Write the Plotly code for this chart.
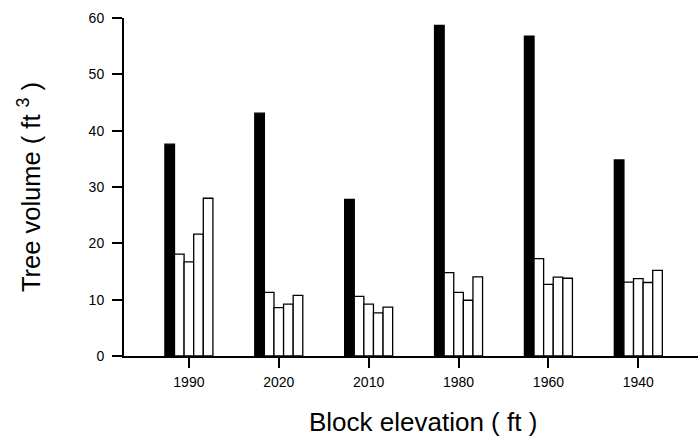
import plotly.graph_objects as go

elevations = ["1990", "2020", "2010", "1980", "1960", "1940"]
series_names = ["Series 1", "Series 2", "Series 3", "Series 4", "Series 5"]
s1 = [37.6, 43.1, 27.8, 58.7, 56.8, 34.8]
s2 = [18.1, 11.3, 10.6, 14.8, 17.3, 13.1]
s3 = [16.7, 8.6, 9.2, 11.3, 12.7, 13.75]
s4 = [21.65, 9.2, 7.65, 9.9, 14.0, 13.05]
s5 = [28.0, 10.75, 8.67, 14.06, 13.8, 15.2]
series_values = [s1, s2, s3, s4, s5]
fills = ["black", "white", "white", "white", "white"]

FONT = "Liberation Sans, Arial, Helvetica, sans-serif"

fig = go.Figure()
for name, vals, fc in zip(series_names, series_values, fills):
    fig.add_trace(go.Bar(
        x=elevations, y=vals, name=name,
        marker=dict(color=fc, line=dict(color="black", width=1.3)),
        showlegend=False,
    ))

fig.update_layout(
    width=698, height=436,
    margin=dict(l=124, r=0, t=18, b=80),
    paper_bgcolor="white", plot_bgcolor="white",
    barmode="group", bargap=0.466, bargroupgap=0,
    font=dict(family=FONT, color="black", size=14),
    annotations=[dict(
        text="Block elevation ( ft )", xref="paper", yref="paper",
        x=0.521, y=-0.195, xanchor="center", yanchor="middle",
        showarrow=False, font=dict(size=26, family=FONT, color="black"),
    )],
)
fig.update_xaxes(
    type="category", range=[-0.722, 5.664],
    showline=True, linecolor="black", linewidth=2,
    ticks="outside", ticklen=10, tickwidth=2, tickcolor="black",
    ticklabelstandoff=2,
    tickfont=dict(size=14, family=FONT, color="black"),
    showgrid=False, zeroline=False,
)
fig.update_yaxes(
    range=[0, 60], tickvals=[0, 10, 20, 30, 40, 50, 60],
    showline=True, linecolor="black", linewidth=2,
    ticks="outside", ticklen=10, tickwidth=2, tickcolor="black",
    ticklabelstandoff=5,
    tickfont=dict(size=14, family=FONT, color="black"),
    showgrid=False, zeroline=False,
    title=dict(text="Tree volume ( ft <sup>3</sup> )", font=dict(size=25.5, family=FONT), standoff=41),
)

fig.write_html("out.html", config={"displayModeBar": False},
               post_script="document.body.style.margin='0';")
